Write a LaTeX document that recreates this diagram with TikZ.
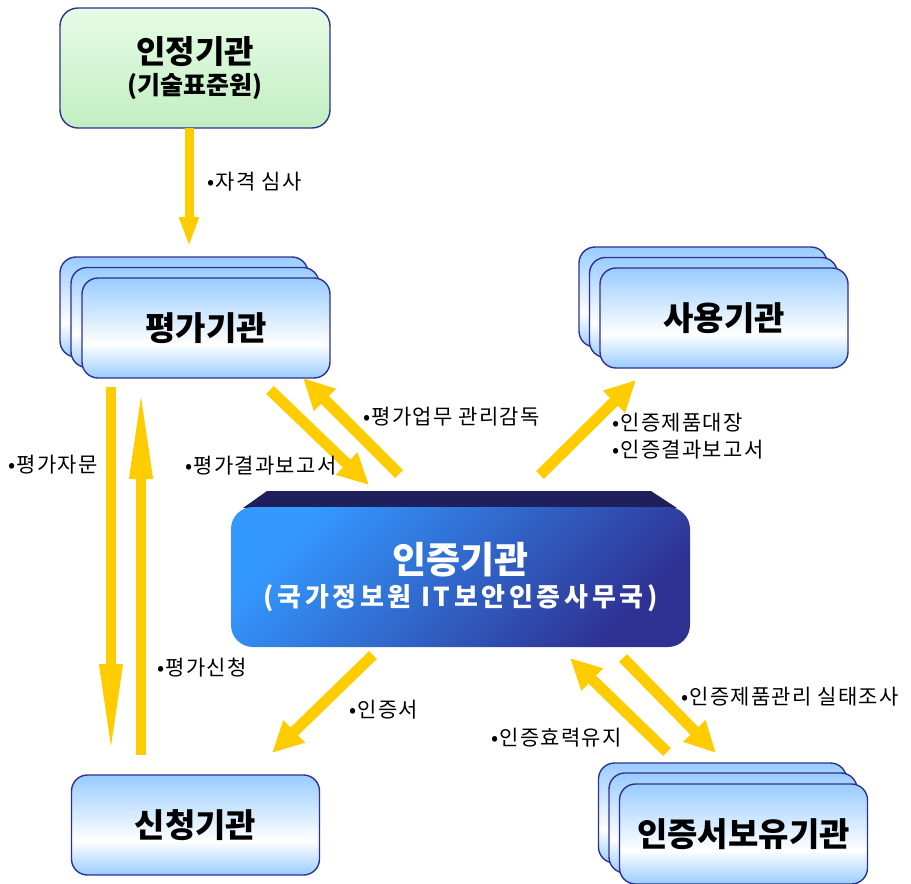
\documentclass[tikz,border=0pt]{standalone}
\usepackage{fontspec}
\newfontfamily\krfont{Noto Sans CJK KR}
\usetikzlibrary{arrows.meta}
\definecolor{ayel}{HTML}{FFCC00}
\definecolor{bb}{HTML}{99CCFF}
\definecolor{bline}{HTML}{2E3192}
\definecolor{gb}{HTML}{C2EEC2}
\definecolor{gt}{HTML}{E6FCE6}
\definecolor{ctop}{HTML}{3399FF}
\definecolor{cmid}{HTML}{3377DD}
\definecolor{cbot}{HTML}{2E3192}
\definecolor{cface}{HTML}{1F1F5C}
\pgfdeclareverticalshading{bluebox}{100bp}{color(0bp)=(bb); color(25bp)=(bb); color(42bp)=(white); color(75bp)=(bb); color(100bp)=(bb)}
\begin{document}
\begin{tikzpicture}[x=1pt,y=-1pt,
  box/.style={draw=bline, line width=1.4pt, rounded corners=16pt, shade, shading=bluebox,
    minimum width=248pt, minimum height=100pt, inner sep=0pt,
    font=\krfont\bfseries\fontsize{33pt}{33pt}\selectfont},
  gbox/.style={draw=bline, line width=1.4pt, rounded corners=18pt, top color=gt, bottom color=gb,
    minimum width=270pt, minimum height=120pt, inner sep=0pt, align=center},
  lbl/.style={anchor=west, inner sep=0pt, font=\krfont\fontsize{21pt}{27pt}\addfontfeature{LetterSpace=6}\selectfont},
  yarrow/.style={draw=ayel, line width=11pt, line cap=butt, -{Triangle[length=31pt,width=29pt]}},
  yarrowthin/.style={draw=ayel, line width=9pt, line cap=butt, -{Triangle[length=30pt,width=18pt]}},
  yarrowlong/.style={draw=ayel, line width=10pt, line cap=butt, -{Triangle[length=92pt,width=21pt]}}
]
\useasboundingbox (0,0) rectangle (911,884);

% 인정기관
\node[gbox] (kats) at (195,68)
  {{\krfont\bfseries\fontsize{32pt}{32pt}\selectfont 인정기관}\\[5pt]
   {\krfont\bfseries\fontsize{25pt}{25pt}\selectfont (기술표준원)}};

% 평가기관 (stack)
\node[box] (pg3) at (184,307) {};
\node[box] (pg2) at (195,317.5) {};
\node[box] (pg) at (206,328) {평가기관};

% 사용기관 (stack)
\node[box] (us3) at (703,297) {};
\node[box] (us2) at (713.5,307.5) {};
\node[box] (us) at (724,318) {사용기관};

% 신청기관
\node[box] (ap) at (195.5,825) {신청기관};

% 인증서보유기관 (stack)
\node[box] (ho3) at (722.5,813) {};
\node[box] (ho2) at (733,823) {};
\node[box] (ho) at (743.5,834) {인증서보유기관};

% 인증기관 (central)
\fill[cface] (267,491) -- (651,491) -- (677,508) -- (243,508) -- cycle;
\node[rounded corners=22pt, top color=ctop, middle color=cmid, bottom color=cbot, shading angle=45,
  minimum width=459pt, minimum height=140pt, inner sep=0pt, align=center, text=white] (cb) at (460.5,577)
  {{\krfont\bfseries\fontsize{37pt}{37pt}\selectfont 인증기관}\\[6pt]
   {\krfont\bfseries\fontsize{26pt}{26pt}\addfontfeature{LetterSpace=14}\selectfont (국가정보원 IT보안인증사무국)}};

% arrows
\coordinate (a1s) at (189,128); \coordinate (a1e) at (189,247);
\draw[yarrowthin] (a1s) -- (a1e);
\coordinate (a2s) at (111,387); \coordinate (a2e) at (111,756);
\draw[yarrowlong] (a2s) -- (a2e);
\coordinate (a3s) at (141,755); \coordinate (a3e) at (141,387);
\draw[yarrowlong] (a3s) -- (a3e);
\coordinate (d1s) at (270,390); \coordinate (d1e) at (369,485);
\draw[yarrow] (d1s) -- (d1e);
\coordinate (d2s) at (399,474); \coordinate (d2e) at (303,378);
\draw[yarrow] (d2s) -- (d2e);
\coordinate (d3s) at (540,475); \coordinate (d3e) at (636,380);
\draw[yarrow] (d3s) -- (d3e);
\coordinate (d4s) at (373,655); \coordinate (d4e) at (272,753);
\draw[yarrow] (d4s) -- (d4e);
\coordinate (d5s) at (667,752); \coordinate (d5e) at (570,658);
\draw[yarrow] (d5s) -- (d5e);
\coordinate (d6s) at (623,658); \coordinate (d6e) at (716,753);
\draw[yarrow] (d6s) -- (d6e);

% labels
\node[lbl] (l1) at (207,182) {•자격 심사};
\node[lbl] (l2) at (8,465) {•평가자문};
\node[lbl] (l3) at (185,466) {•평가결과보고서};
\node[lbl] (l4) at (363,417) {•평가업무 관리감독};
\node[lbl, align=left] (l5) at (612,436.5) {•인증제품대장\\•인증결과보고서};
\node[lbl] (l6) at (157,668) {•평가신청};
\node[lbl] (l7) at (349,710) {•인증서};
\node[lbl] (l8) at (491,738) {•인증효력유지};
\node[lbl] (l9) at (681,697) {•인증제품관리 실태조사};
\end{tikzpicture}
\end{document}
